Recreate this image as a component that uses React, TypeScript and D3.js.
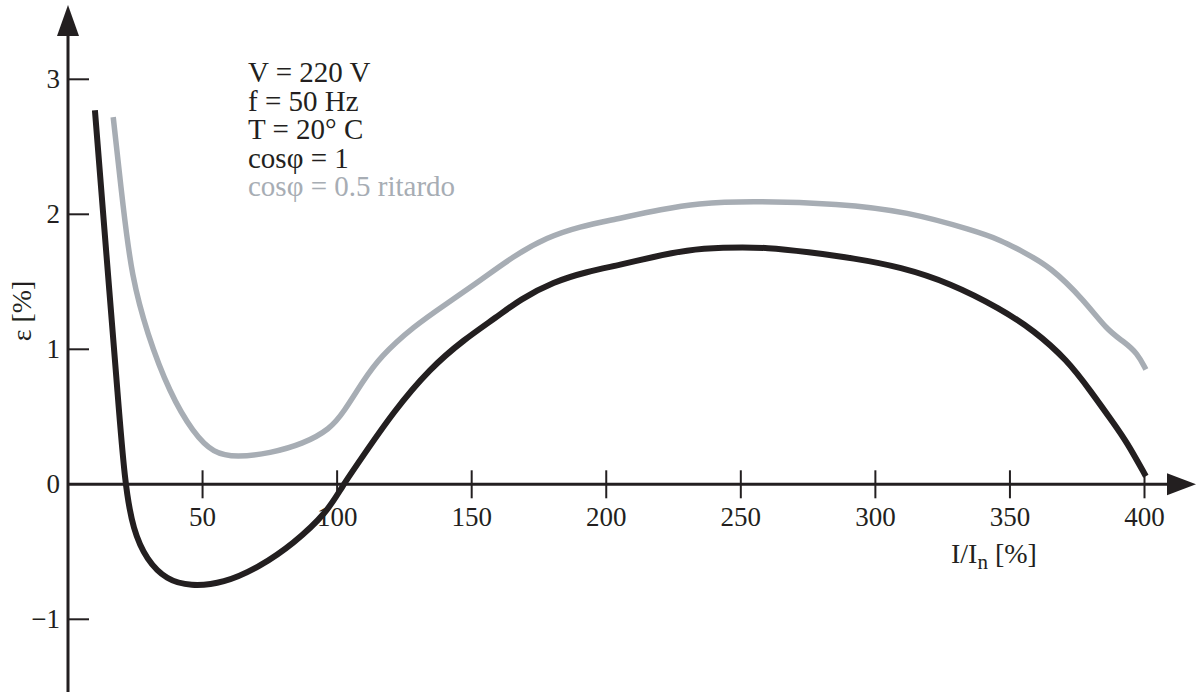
import React, { useEffect, useRef } from 'react';
import * as d3 from 'd3';

// cos phi = 1
const blackX = [10, 16, 18.1, 21.1, 24.2, 29.2, 36.7, 45.4, 57.7, 71.4, 83.8, 96.2, 101.7, 108.6, 121, 134.6, 147, 159.4, 168, 180.4, 192.8, 205.2, 217.6, 230, 242.4, 261, 274.6, 292, 309.3, 327.9, 346.5, 358.9, 371.3, 380, 388.6, 393.5, 400.5];
const blackY = [2.77, 1.27, 0.76, 0, -0.34, -0.56, -0.71, -0.755, -0.735, -0.61, -0.44, -0.21, -0.02, 0.18, 0.54, 0.86, 1.07, 1.24, 1.37, 1.5, 1.575, 1.625, 1.686, 1.735, 1.755, 1.755, 1.72, 1.675, 1.61, 1.49, 1.3, 1.14, 0.92, 0.69, 0.45, 0.31, 0.06];

// cos phi = 0.5 ritardo
const grayX = [16.8, 20.6, 23.7, 29.3, 37.9, 46.6, 54, 62.7, 75.1, 87.5, 97.4, 102.3, 109.8, 116, 128.4, 140.8, 153.2, 165.5, 178, 190.3, 202.7, 221.3, 233.7, 252, 287, 311.8, 336.6, 346.5, 355.1, 365.1, 377.5, 386.2, 392.4, 397.4, 400.5];
const grayY = [2.72, 2.03, 1.54, 1.12, 0.67, 0.38, 0.23, 0.2, 0.23, 0.3, 0.41, 0.53, 0.77, 0.945, 1.17, 1.34, 1.51, 1.69, 1.83, 1.91, 1.96, 2.04, 2.08, 2.1, 2.08, 2.02, 1.88, 1.81, 1.72, 1.61, 1.365, 1.14, 1.056, 0.97, 0.85];

const xTicks = [50, 100, 150, 200, 250, 300, 350, 400];
const yTicks = [-1, 1, 2, 3];
const notes = ['V = 220 V', 'f = 50 Hz', 'T = 20° C', 'cosφ = 1', 'cosφ = 0.5 ritardo'];

const W = 1196, H = 692;
const INK = '#231f20';
const GRAY = '#a7adb4';
const FONT = '"Liberation Serif", "Times New Roman", serif';

const App = () => {
  const svgRef = useRef<SVGSVGElement>(null);

  useEffect(() => {
    const svg = d3.select(svgRef.current).attr('width', W).attr('height', H);
    svg.selectAll('*').remove();

    const x = d3.scaleLinear().domain([0, 400]).range([68, 1144.5]);
    const y = d3.scaleLinear().domain([0, 3]).range([484.3, 79.3]);
    const x0 = x(0), y0 = y(0);

    // axes with arrow heads
    svg.append('line').attr('x1', x0).attr('x2', x0).attr('y1', 30).attr('y2', H)
      .attr('stroke', INK).attr('stroke-width', 3);
    svg.append('path').attr('d', `M${x0},5 L${x0 - 11},36 L${x0 + 11},36 Z`).attr('fill', INK);
    svg.append('line').attr('x1', x0).attr('x2', 1172).attr('y1', y0).attr('y2', y0)
      .attr('stroke', INK).attr('stroke-width', 3);
    svg.append('path').attr('d', `M1196,${y0} L1167,${y0 - 11} L1167,${y0 + 11} Z`).attr('fill', INK);

    svg.selectAll('.xtick').data(xTicks).join('line').attr('class', 'xtick')
      .attr('x1', (d) => x(d)).attr('x2', (d) => x(d))
      .attr('y1', y0 - 14).attr('y2', y0 + 14)
      .attr('stroke', INK).attr('stroke-width', 2);
    svg.selectAll('.xlab').data(xTicks).join('text').attr('class', 'xlab')
      .attr('x', (d) => x(d)).attr('y', y0 + 42)
      .attr('text-anchor', 'middle').attr('font-family', FONT).attr('font-size', 27).attr('fill', INK)
      .text((d) => d);

    svg.selectAll('.ytick').data(yTicks).join('line').attr('class', 'ytick')
      .attr('x1', x0).attr('x2', x0 + 21)
      .attr('y1', (d) => y(d)).attr('y2', (d) => y(d))
      .attr('stroke', INK).attr('stroke-width', 2);
    svg.selectAll('.ylab').data([...yTicks, 0]).join('text').attr('class', 'ylab')
      .attr('x', 60).attr('y', (d) => y(d) + 9)
      .attr('text-anchor', 'end').attr('font-family', FONT).attr('font-size', 27).attr('fill', INK)
      .text((d) => (d < 0 ? `\u2212${Math.abs(d)}` : d));

    // axis titles
    const xt = svg.append('text').attr('x', 951).attr('y', 563)
      .attr('font-family', FONT).attr('font-size', 28).attr('fill', INK);
    xt.append('tspan').text('I/I');
    xt.append('tspan').attr('dy', 6).attr('font-size', 21).text('n');
    xt.append('tspan').attr('dy', -6).text(' [%]');

    svg.append('text').attr('transform', 'translate(31,311) rotate(-90)')
      .attr('text-anchor', 'middle').attr('font-family', FONT).attr('font-size', 28).attr('fill', INK)
      .text('ε [%]');

    // curves (basis spline smooths the hand-read points)
    const line = d3.line<number>()
      .x((d) => x(d))
      .curve(d3.curveBasis);

    svg.append('path')
      .attr('d', line.y((_, i) => y(grayY[i]))(grayX))
      .attr('fill', 'none').attr('stroke', GRAY).attr('stroke-width', 5.5);
    svg.append('path')
      .attr('d', line.y((_, i) => y(blackY[i]))(blackX))
      .attr('fill', 'none').attr('stroke', INK).attr('stroke-width', 6);

    // test conditions
    svg.selectAll('.note').data(notes).join('text').attr('class', 'note')
      .attr('x', 248).attr('y', (_, i) => 82 + i * 28.5)
      .attr('font-family', FONT).attr('font-size', 29)
      .attr('fill', (_, i) => (i === notes.length - 1 ? GRAY : INK))
      .text((d) => d);
  }, []);

  return (
    <div style={{ position: 'absolute', left: 0, top: 0, background: '#fff' }}>
      <svg ref={svgRef} style={{ display: 'block' }}></svg>
    </div>
  );
};

export default App;
